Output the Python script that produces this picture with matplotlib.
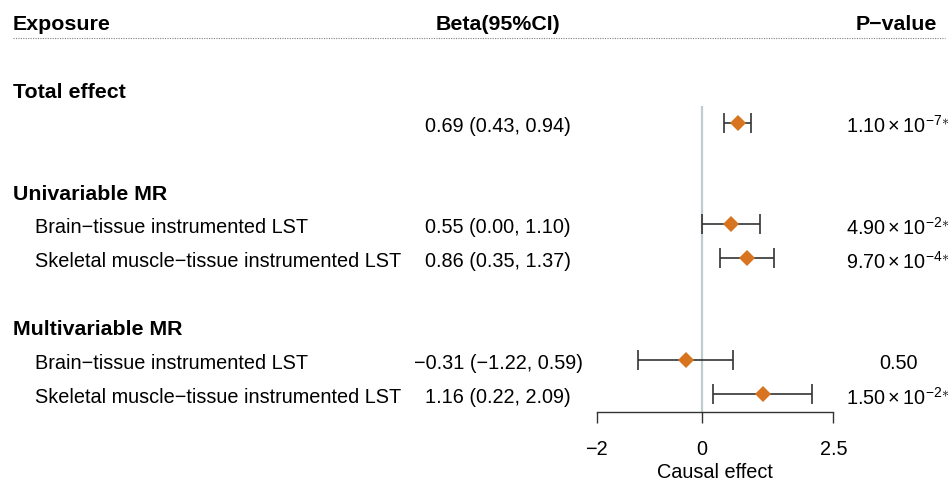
import matplotlib.pyplot as plt
import numpy as np

plt.rcParams['font.family'] = ['Liberation Sans', 'DejaVu Sans']
plt.rcParams['mathtext.fontset'] = 'custom'
plt.rcParams['mathtext.rm'] = 'Liberation Sans'
plt.rcParams['mathtext.it'] = 'Liberation Sans:italic'
plt.rcParams['mathtext.bf'] = 'Liberation Sans:bold'

# data
groups = ['Total effect', 'Univariable MR', 'Multivariable MR']
group_items = [[''],
               ['Brain\u2212tissue instrumented LST', 'Skeletal muscle\u2212tissue instrumented LST'],
               ['Brain\u2212tissue instrumented LST', 'Skeletal muscle\u2212tissue instrumented LST']]
beta = [0.69, 0.55, 0.86, -0.31, 1.16]
lower = [0.43, 0.00, 0.35, -1.22, 0.22]
upper = [0.94, 1.10, 1.37, 0.59, 2.09]
p_mant = [1.10, 4.90, 9.70, 0.50, 1.50]
p_exp = [-7, -2, -4, 0, -2]
xticks = [-2, 0, 2.5]

W, H = 950, 481
row0_px = 22
row_h = 33.9


def px2row(py):
    return (py - row0_px) / row_h


fig = plt.figure(figsize=(W / 100, H / 100), dpi=100)

# text table covering the whole figure, x in pixels, y in row units
tab = fig.add_axes([0, 0, 1, 1])
tab.set_xlim(0, W)
tab.set_ylim(px2row(H), px2row(0))
tab.axis('off')

fs = 14.35
fsb = 15.4
dy = 2.5 / row_h  # text centre sits a bit below the row line
x_exp, x_sub, x_beta, x_p = 13, 35, 498, 898

tab.text(x_exp, dy, 'Exposure', fontsize=fsb, fontweight='bold', va='center', ha='left')
tab.text(x_beta, dy, 'Beta(95%CI)', fontsize=fsb, fontweight='bold', va='center', ha='center')
tab.text(937, dy, 'P\u2212value', fontsize=fsb, fontweight='bold', va='center', ha='right')
tab.plot([13, 945], [px2row(39), px2row(39)], color='#808080', lw=0.8, ls=(0, (1, 1.2)))

rows = []
row = 2
i = 0
for g, items in zip(groups, group_items):
    tab.text(x_exp, row + dy, g, fontsize=fsb, fontweight='bold', va='center', ha='left')
    row += 1
    for name in items:
        tab.text(x_sub, row + dy, name, fontsize=fs, va='center', ha='left')
        b_txt = '%.2f (%.2f, %.2f)' % (beta[i], lower[i], upper[i])
        tab.text(x_beta, row + dy, b_txt.replace('-', '\u2212'), fontsize=fs, va='center', ha='center')
        if p_exp[i] < 0:
            p_txt = r'$%.2f\times10^{-%d{\ast}}$' % (p_mant[i], -p_exp[i])
        else:
            p_txt = '%.2f' % p_mant[i]
        tab.text(x_p, row + dy, p_txt, fontsize=fs, va='center', ha='center')
        rows.append(row)
        row += 1
        i += 1
    row += 1

rows = np.array(rows)
beta = np.array(beta)
lower = np.array(lower)
upper = np.array(upper)

# forest panel
left_px, right_px = 596.7, 833.3
top_px, bot_px = 107, 413
ax = fig.add_axes([left_px / W, 1 - bot_px / H, (right_px - left_px) / W, (bot_px - top_px) / H])
ax.patch.set_alpha(0)
ax.set_xlim(-2, 2.5)
ax.set_ylim(px2row(bot_px), px2row(top_px))
ax.axvline(0, color='#bfcdd1', lw=1.6, zorder=0)
ax.errorbar(beta, rows, xerr=[beta - lower, upper - beta], fmt='none',
            ecolor='#333333', elinewidth=1.2, capsize=7, capthick=1.2, zorder=2)
ax.plot(beta, rows, 'D', color='#D8731F', markersize=8.5, markeredgewidth=0, zorder=3)

for s in ['left', 'top', 'right']:
    ax.spines[s].set_visible(False)
ax.spines['bottom'].set_color('#333333')
ax.spines['bottom'].set_linewidth(1)
ax.set_yticks([])
ax.set_xticks(xticks)
ax.set_xticklabels(['\u22122', '0', '2.5'])
ax.tick_params(axis='x', direction='out', length=8, width=1, color='#333333', labelsize=fs, pad=11.5)
ax.set_xlabel('Causal effect', fontsize=fs, labelpad=3)

fig.savefig('out.png', dpi=100)
